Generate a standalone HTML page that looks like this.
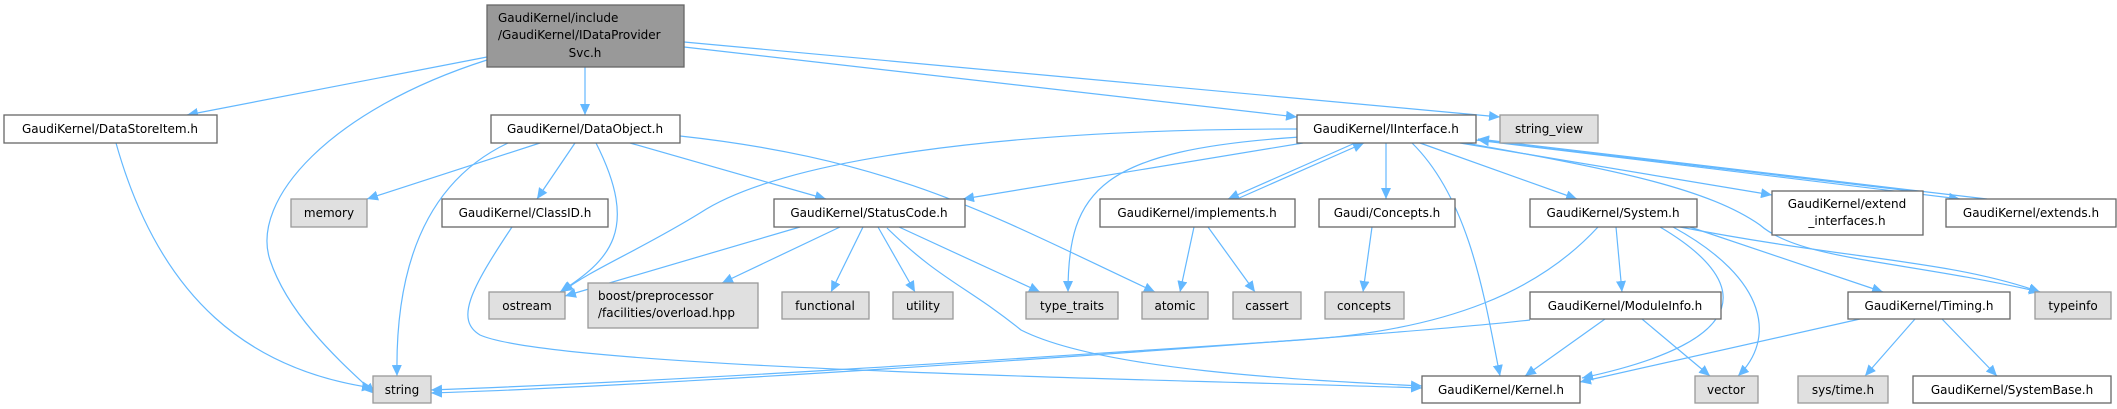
<!DOCTYPE html>
<html><head><meta charset="utf-8"><style>
html,body{margin:0;padding:0;background:#fff;}
svg{display:block;}
text{font-family:"DejaVu Sans","Liberation Sans",sans-serif;font-size:12px;fill:#000;}
.w{fill:#fff;stroke:#666;stroke-width:1.3;}
.g{fill:#e0e0e0;stroke:#999;stroke-width:1.3;}
.r{fill:#999;stroke:#666;stroke-width:1.3;}
.e{fill:none;stroke:#63b8ff;stroke-width:1.2;marker-end:url(#a);}
</style></head><body>
<svg width="2117" height="409" viewBox="0 0 2117 409" xmlns="http://www.w3.org/2000/svg">
<defs><marker id="a" markerUnits="userSpaceOnUse" markerWidth="12" markerHeight="10" refX="11" refY="5" orient="auto"><path d="M0,0 L11,5 L0,10 Z" fill="#63b8ff"/></marker></defs>
<!-- edges -->
<path class="e" d="M487,57 L187,115"/>
<path class="e" d="M487,60 C330,110 250,200 270,260 C290,320 350,370 375,394"/>
<path class="e" d="M585,67 L585,115"/>
<path class="e" d="M684,47 L1297,117"/>
<path class="e" d="M684,42 L1500,117"/>
<path class="e" d="M116,143 C160,300 250,370 373,388"/>
<path class="e" d="M540,143 L367,199"/>
<path class="e" d="M575,143 L537,199"/>
<path class="e" d="M596,143 C640,230 610,260 560,292"/>
<path class="e" d="M508,143 C430,180 395,260 397,376"/>
<path class="e" d="M630,143 L826,199"/>
<path class="e" d="M680,136 C900,160 1000,220 1155,292"/>
<path class="e" d="M512,227 C470,290 455,320 480,335 C560,370 1200,380 1422,388"/>
<path class="e" d="M800,227 L565,296"/>
<path class="e" d="M840,227 L722,283"/>
<path class="e" d="M863,227 L831,292"/>
<path class="e" d="M878,227 L915,292"/>
<path class="e" d="M899,227 L1040,292"/>
<path class="e" d="M887,228 C940,280 968,287 1021,330 C1100,370 1300,380 1422,386"/>
<path class="e" d="M1303,143 L963,199"/>
<path class="e" d="M1297,129 C1000,129 780,160 700,213 C640,250 590,270 562,292"/>
<path class="e" d="M1300,137 C1100,150 1068,190 1068,292"/>
<path class="e" d="M1355,143 L1228,199"/>
<path class="e" d="M1237,199 L1364,143"/>
<path class="e" d="M1386,143 L1386,199"/>
<path class="e" d="M1412,143 C1470,200 1485,300 1500,376"/>
<path class="e" d="M1420,143 L1577,199"/>
<path class="e" d="M1460,143 L1772,195"/>
<path class="e" d="M1911,191 L1478,140"/>
<path class="e" d="M1476,140 L1960,199"/>
<path class="e" d="M1987,199 L1478,139"/>
<path class="e" d="M1465,143 C1620,170 1710,190 1760,225 C1800,260 1900,260 2040,292"/>
<path class="e" d="M1598,227 C1540,290 1450,330 1300,340 C1000,360 700,380 431,390"/>
<path class="e" d="M1616,227 L1622,292"/>
<path class="e" d="M1660,227 C1750,280 1760,340 1582,378"/>
<path class="e" d="M1673,227 C1770,280 1775,340 1738,376"/>
<path class="e" d="M1690,227 L1883,292"/>
<path class="e" d="M1680,227 C1850,260 1950,260 2040,292"/>
<path class="e" d="M1530,320 C1400,335 700,385 431,393"/>
<path class="e" d="M1605,319 L1525,376"/>
<path class="e" d="M1642,319 L1710,376"/>
<path class="e" d="M1860,319 L1580,382"/>
<path class="e" d="M1915,319 L1865,376"/>
<path class="e" d="M1942,319 L1997,376"/>
<path class="e" d="M1372,227 L1363,292"/>
<path class="e" d="M1194,227 L1180,292"/>
<path class="e" d="M1208,227 L1255,292"/>
<!-- nodes -->
<rect class="r" x="487" y="5" width="197" height="62"/>
<text x="498" y="22">GaudiKernel/include</text>
<text x="498" y="39">/GaudiKernel/IDataProvider</text>
<text x="585" y="57" text-anchor="middle">Svc.h</text>

<rect class="w" x="4" y="115" width="213" height="28"/><text x="110" y="133" text-anchor="middle">GaudiKernel/DataStoreItem.h</text>
<rect class="w" x="491" y="115" width="189" height="28"/><text x="585" y="133" text-anchor="middle">GaudiKernel/DataObject.h</text>
<rect class="w" x="1297" y="115" width="179" height="28"/><text x="1386" y="133" text-anchor="middle">GaudiKernel/IInterface.h</text>
<rect class="g" x="1500" y="115" width="98" height="28"/><text x="1549" y="133" text-anchor="middle">string_view</text>

<rect class="g" x="291" y="199" width="76" height="28"/><text x="329" y="217" text-anchor="middle">memory</text>
<rect class="w" x="442" y="199" width="166" height="28"/><text x="525" y="217" text-anchor="middle">GaudiKernel/ClassID.h</text>
<rect class="w" x="774" y="199" width="191" height="28"/><text x="869" y="217" text-anchor="middle">GaudiKernel/StatusCode.h</text>
<rect class="w" x="1100" y="199" width="195" height="28"/><text x="1197" y="217" text-anchor="middle">GaudiKernel/implements.h</text>
<rect class="w" x="1319" y="199" width="136" height="28"/><text x="1387" y="217" text-anchor="middle">Gaudi/Concepts.h</text>
<rect class="w" x="1530" y="199" width="167" height="28"/><text x="1613" y="217" text-anchor="middle">GaudiKernel/System.h</text>
<rect class="w" x="1772" y="191" width="151" height="44"/><text x="1847" y="208" text-anchor="middle">GaudiKernel/extend</text><text x="1847" y="225" text-anchor="middle">_interfaces.h</text>
<rect class="w" x="1946" y="199" width="170" height="28"/><text x="2031" y="217" text-anchor="middle">GaudiKernel/extends.h</text>

<rect class="g" x="489" y="292" width="76" height="27"/><text x="527" y="310" text-anchor="middle">ostream</text>
<rect class="g" x="588" y="283" width="170" height="45"/><text x="598" y="300">boost/preprocessor</text><text x="598" y="317">/facilities/overload.hpp</text>
<rect class="g" x="782" y="292" width="87" height="27"/><text x="825" y="310" text-anchor="middle">functional</text>
<rect class="g" x="893" y="292" width="60" height="27"/><text x="923" y="310" text-anchor="middle">utility</text>
<rect class="g" x="1026" y="292" width="92" height="27"/><text x="1072" y="310" text-anchor="middle">type_traits</text>
<rect class="g" x="1142" y="292" width="66" height="27"/><text x="1175" y="310" text-anchor="middle">atomic</text>
<rect class="g" x="1233" y="292" width="68" height="27"/><text x="1267" y="310" text-anchor="middle">cassert</text>
<rect class="g" x="1325" y="292" width="79" height="27"/><text x="1364" y="310" text-anchor="middle">concepts</text>
<rect class="w" x="1530" y="292" width="191" height="27"/><text x="1625" y="310" text-anchor="middle">GaudiKernel/ModuleInfo.h</text>
<rect class="w" x="1848" y="292" width="162" height="27"/><text x="1929" y="310" text-anchor="middle">GaudiKernel/Timing.h</text>
<rect class="g" x="2035" y="292" width="76" height="27"/><text x="2073" y="310" text-anchor="middle">typeinfo</text>

<rect class="g" x="373" y="376" width="58" height="27"/><text x="402" y="394" text-anchor="middle">string</text>
<rect class="w" x="1422" y="376" width="158" height="27"/><text x="1501" y="394" text-anchor="middle">GaudiKernel/Kernel.h</text>
<rect class="g" x="1695" y="376" width="63" height="27"/><text x="1726" y="394" text-anchor="middle">vector</text>
<rect class="g" x="1798" y="376" width="90" height="27"/><text x="1843" y="394" text-anchor="middle">sys/time.h</text>
<rect class="w" x="1913" y="376" width="198" height="27"/><text x="2012" y="394" text-anchor="middle">GaudiKernel/SystemBase.h</text>
</svg>
</body></html>
